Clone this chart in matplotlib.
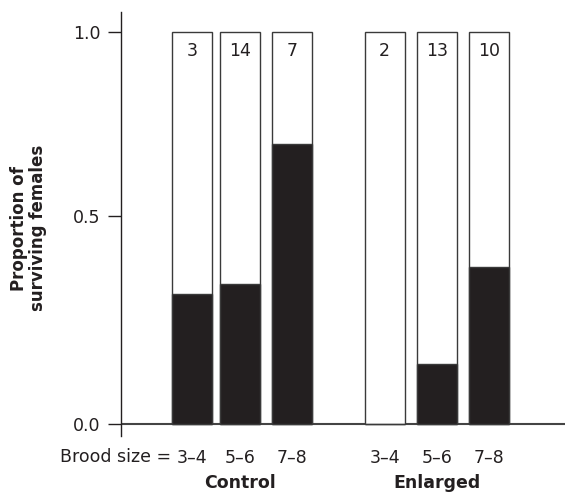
import numpy as np
import matplotlib
matplotlib.use("Agg")
import matplotlib.pyplot as plt

plt.rcParams['font.family'] = ['DejaVu Sans']

# data
groups = ["Control", "Enlarged"]
brood_sizes = ["3\u20134", "5\u20136", "7\u20138"]
control_prop = [1/3, 5/14, 5/7]
enlarged_prop = [0.0, 2/13, 4/10]
control_n = [3, 14, 7]
enlarged_n = [2, 13, 10]

props = control_prop + enlarged_prop
counts = control_n + enlarged_n
xlabels = brood_sizes + brood_sizes

# bar layout
xpos = np.array([0, 0.966, 1.996, 3.856, 4.908, 5.946])
width = 0.806
dark = "#231f20"
edge = "#3a3a3a"
txt = "#231f20"

fig = plt.figure(figsize=(5.65, 4.95), dpi=100)
ax = fig.add_axes([0.2136, 0.119, 0.7864, 0.8568])

ax.bar(xpos, [1.0] * len(xpos), width, color="white", edgecolor=edge, linewidth=1.0, zorder=2)
ax.bar(xpos, props, width, color=dark, edgecolor=edge, linewidth=1.0, zorder=3)

for x, n in zip(xpos, counts):
    ax.text(x, 0.952, str(n), ha="center", va="center", fontsize=12.5, color=txt, zorder=4)

ax.set_xlim(-1.424, 7.462)
ax.set_ylim(-0.0306, 1.052)

# axes styling
for s in ["top", "right", "bottom"]:
    ax.spines[s].set_visible(False)
ax.spines["left"].set_linewidth(1.0)
ax.spines["left"].set_color(txt)
ax.axhline(0, color="#444444", linewidth=1.5, zorder=1)

# middle tick sits a little above 0.5 in the original figure
ax.set_yticks([0.0, 0.53, 1.0])
ax.set_yticklabels(["0.0", "0.5", "1.0"])
ax.tick_params(axis="y", length=9.5, width=1.0, pad=5, labelsize=12.5, colors=txt)

ax.set_xticks(xpos)
ax.set_xticklabels(xlabels)
ax.tick_params(axis="x", length=0, pad=9, labelsize=12.5, colors=txt)

ax.text(xpos[0] - 0.41, -0.083, "Brood size =", ha="right", va="center", fontsize=12.5, color=txt)

for g, i in zip(groups, [1, 4]):
    ax.text(xpos[i], -0.151, g, ha="center", va="center", fontsize=12.5, fontweight="bold", color=txt)

fig.text(0.05, 0.539, "Proportion of\nsurviving females", rotation=90, ha="center", va="center",
         fontsize=12, fontweight="bold", color=txt, multialignment="center", linespacing=1.05)

fig.savefig("out.png", dpi=100)
